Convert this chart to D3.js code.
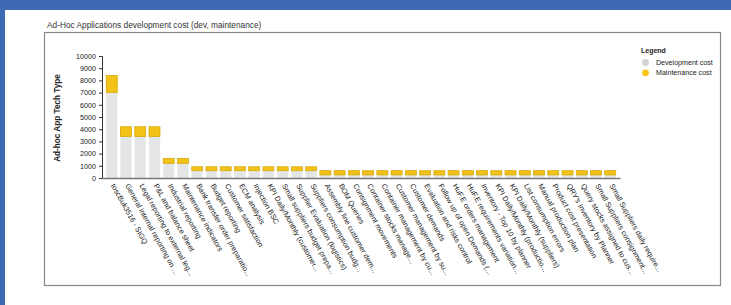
<!DOCTYPE html>
<html>
<head>
<meta charset="utf-8">
<script src="https://cdn.jsdelivr.net/npm/d3@7"></script>
<style>
  body { margin: 0; background: #fff; }
  svg { display: block; font-family: "Liberation Sans", Arial, sans-serif; }
</style>
</head>
<body>
<div id="chart"></div>
<script>
// Chart size
const WIDTH = 731;
const HEIGHT = 305;

// Data
const apps = [
  'toscBuk3516 - SIGQ',
  'General internal reporting on ...',
  'Legal reporting to external leg...',
  'P&L and balance sheet',
  'Industrial reporting',
  'Maintenance indicators',
  'Bank transfer order preparatio...',
  'Budget reporting',
  'Customer satisfaction',
  'ECM analysis',
  'Injection BSC',
  'KPI Daily/Monthly (customer...',
  'Small suppliers budget prepa...',
  'Supplier Evaluation (logistics)',
  'Suppliers consumption budg...',
  'Assembly line customer dem...',
  'BOM Queries',
  'Consignment movements',
  'Container stocks manage...',
  'Container management by cu...',
  'Customer management by su...',
  'Customer demands',
  'Evaluation and risks control',
  'Follow up of open Demands (...',
  'HuF.E orders management',
  'HuF.E requirements variation...',
  'Inventory - Top 10 by planner',
  'KPI Daily/Monthly (productio...',
  'KPI Daily/Monthly (suppliers)',
  'List consumption errors',
  'Manual production plan',
  'Product cost presentation',
  "QRY's Inventory by Planner",
  'Query stocks assigned to cus...',
  'Small Suppliers consignment...',
  'Small Suppliers daily require...'
];
const devCost = [7000, 3400, 3400, 3400, 1200, 1200,
  600, 600, 600, 600, 600, 600, 600, 600, 600,
  250, 250, 250, 250, 250, 250, 250, 250, 250, 250, 250,
  250, 250, 250, 250, 250, 250, 250, 250, 250, 250];
const maintCost = [1400, 800, 800, 800, 400, 400,
  320, 320, 320, 320, 320, 320, 320, 320, 320,
  350, 350, 350, 350, 350, 350, 350, 350, 350, 350, 350,
  350, 350, 350, 350, 350, 350, 350, 350, 350, 350];
const yTicks = [0, 1000, 2000, 3000, 4000, 5000, 6000, 7000, 8000, 9000, 10000];
const seriesNames = ['Development cost', 'Maintenance cost'];
const seriesColors = ['#d3d3d3', '#f5c518'];

const FONT = '"Liberation Sans", Arial, sans-serif';

const svg = d3.select('#chart')
  .append('svg')
  .attr('width', WIDTH)
  .attr('height', HEIGHT);

// blue frame
svg.append('rect').attr('x', 0).attr('y', 0).attr('width', WIDTH).attr('height', 10).attr('fill', '#3e69b3');
svg.append('rect').attr('x', 0).attr('y', 0).attr('width', 5).attr('height', HEIGHT).attr('fill', '#3e69b3');

// title
svg.append('text')
  .attr('x', 47).attr('y', 28)
  .attr('font-size', 8.3)
  .attr('fill', '#333')
  .text('Ad-Hoc Applications development cost (dev, maintenance)');

// panel
svg.append('rect')
  .attr('x', 44.5).attr('y', 32.5)
  .attr('width', 676).attr('height', 253)
  .attr('fill', 'none')
  .attr('stroke', '#888')
  .attr('stroke-width', 1.2);

// scales
const xScale = d3.scaleBand()
  .domain(apps)
  .range([102, 620])
  .paddingInner(0.23)
  .paddingOuter(0.3);

const yScale = d3.scaleLinear()
  .domain([0, 10000])
  .range([178, 56]);

const data = apps.map((a, i) => ({ app: a, dev: devCost[i], maint: maintCost[i] }));

// bars
const g = svg.append('g');
g.selectAll('rect.dev')
  .data(data)
  .join('rect')
  .attr('class', 'dev')
  .attr('x', d => xScale(d.app))
  .attr('width', xScale.bandwidth())
  .attr('y', d => yScale(d.dev))
  .attr('height', d => yScale(0) - yScale(d.dev))
  .attr('fill', '#e4e5e5')
  .attr('stroke', '#f0f0f0')
  .attr('stroke-width', 0.6);

g.selectAll('rect.maint')
  .data(data)
  .join('rect')
  .attr('class', 'maint')
  .attr('x', d => xScale(d.app))
  .attr('width', xScale.bandwidth())
  .attr('y', d => yScale(d.dev + d.maint))
  .attr('height', d => yScale(d.dev) - yScale(d.dev + d.maint))
  .attr('fill', '#f2c216')
  .attr('stroke', '#d6a90c')
  .attr('stroke-width', 0.8);

// y axis
const yAxis = d3.axisLeft(yScale).tickValues(yTicks).tickSize(3).tickFormat(d3.format('d'));
const yG = svg.append('g')
  .attr('transform', 'translate(102,0)')
  .call(yAxis);
yG.selectAll('text').attr('font-size', 7.2).attr('fill', '#222').attr('font-family', FONT);
yG.selectAll('line, path').attr('stroke', '#333');

// x axis
const xAxis = d3.axisBottom(xScale).tickSize(0).tickSizeOuter(0);
const xG = svg.append('g')
  .attr('transform', 'translate(0,178)')
  .call(xAxis);
xG.select('.domain').attr('stroke', '#777').attr('stroke-width', 1.6);
xG.selectAll('text')
  .attr('font-size', 7.4)
  .attr('fill', '#222')
  .attr('font-family', FONT)
  .attr('text-anchor', 'start')
  .attr('dy', 0)
  .attr('y', 0)
  .attr('transform', 'translate(-1,7.5) rotate(61)');

// y axis title
svg.append('text')
  .attr('transform', 'translate(59.5,118) rotate(-90)')
  .attr('text-anchor', 'middle')
  .attr('font-size', 8.2)
  .attr('font-weight', 'bold')
  .attr('fill', '#222')
  .text('Ad-hoc App Tech Type');

// legend
const legend = svg.append('g').attr('transform', 'translate(641,0)');
legend.append('text')
  .attr('x', 0).attr('y', 53)
  .attr('font-size', 7)
  .attr('font-weight', 'bold')
  .attr('fill', '#222')
  .text('Legend');
const items = legend.selectAll('g.item')
  .data(seriesNames)
  .join('g')
  .attr('class', 'item')
  .attr('transform', (d, i) => `translate(0, ${62.5 + i * 10.3})`);
items.append('circle')
  .attr('cx', 4.5).attr('cy', 0).attr('r', 3.4)
  .attr('fill', (d, i) => seriesColors[i]);
items.append('text')
  .attr('x', 15).attr('y', 2.5)
  .attr('font-size', 7.1)
  .attr('fill', '#222')
  .text(d => d);
</script>
</body>
</html>
